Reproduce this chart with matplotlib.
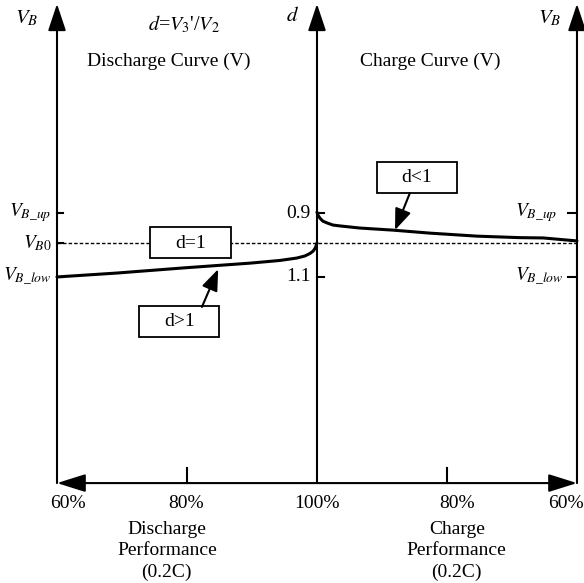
import matplotlib
matplotlib.use("Agg")
import matplotlib.pyplot as plt
from matplotlib.patches import Rectangle

plt.rcParams['font.family'] = ['Liberation Serif', 'DejaVu Serif']
plt.rcParams['mathtext.fontset'] = 'stix'

# capacity (%) vs battery voltage, voltage measured from V_B0
dis_cap = [60.0, 69.2, 79.4, 89.7, 94.3, 96.9, 98.15, 98.9, 99.4, 99.7, 99.85, 100.0]
dis_v = [-1.13, -1.0, -0.83, -0.67, -0.58, -0.5, -0.43, -0.35, -0.27, -0.18, -0.1, 0.0]
chg_cap = [100.0, 99.85, 99.55, 99.1, 98.45, 97.55, 96.45, 93.4, 88.3, 82.6, 75.4,
           68.8, 65.2, 62.6, 60.0]
chg_v = [1.03, 0.93, 0.83, 0.73, 0.67, 0.60, 0.57, 0.50, 0.43, 0.33, 0.23,
         0.18, 0.17, 0.12, 0.07]

v_levels = [1.0, 0.0, -1.13]
v_names = [r'$V_{B\_up}$', r'$V_{B0}$', r'$V_{B\_low}$']
d_levels = [1.0, -1.13]
d_labels = ['0.9', '1.1']
cap_ticks = [60, 80, 100, 80, 60]
cap_labels = ['60%', '80%', '100%', '80%', '60%']

# discharge side runs 60 -> 100, charge side mirrored 100 -> 60
def chg_x(c):
    return 200 - c

cap_pos = [cap_ticks[0], cap_ticks[1], cap_ticks[2], chg_x(cap_ticks[3]), chg_x(cap_ticks[4])]
x_left, x_mid, x_right = 60, 100, 140
y_bot, y_top = -8.0, 7.97

fig = plt.figure(figsize=(5.84, 5.83), dpi=100)
ax = fig.add_axes([0, 0, 1, 1])
ax.set_xlim(51.23, 141.08)
ax.set_ylim(-11.33, 8.1)
ax.axis('off')

lw = 1.5
head = dict(arrowstyle='-|>,head_length=1.65,head_width=0.55', mutation_scale=10,
            lw=lw, color='black', shrinkA=0, shrinkB=0)
for x in (x_left, x_mid, x_right):
    ax.annotate('', xy=(x, y_top), xytext=(x, y_bot), arrowprops=head)
ax.annotate('', xy=(x_left, y_bot), xytext=(x_right, y_bot),
            arrowprops=dict(arrowstyle='<|-|>,head_length=1.75,head_width=0.55',
                            mutation_scale=10, lw=lw, color='black', shrinkA=0, shrinkB=0))

# reference voltage
ax.plot([x_left, x_right], [0, 0], color='black', lw=1.0, ls=(0, (2.5, 1.5)))

# curves
ax.plot(dis_cap, dis_v, color='black', lw=2.2, solid_capstyle='round', solid_joinstyle='round')
ax.plot([chg_x(c) for c in chg_cap], chg_v, color='black', lw=2.2,
        solid_capstyle='round', solid_joinstyle='round')

fs = 14
# voltage ticks
for v, name in zip(v_levels, v_names):
    ax.plot([x_left, x_left + 0.9], [v, v], color='black', lw=lw)
    ax.text(x_left - 0.8, v, name, ha='right', va='center', fontsize=fs)
for v, name in zip([v_levels[0], v_levels[2]], [v_names[0], v_names[2]]):
    ax.plot([x_right - 1.4, x_right], [v, v], color='black', lw=lw)
    ax.text(x_right - 9.5, v, name, ha='left', va='center', fontsize=fs)
for v, lab in zip(d_levels, d_labels):
    ax.plot([x_mid, x_mid + 1.1], [v, v], color='black', lw=lw)
    ax.text(x_mid - 1.0, v, lab, ha='right', va='center', fontsize=fs)

# capacity ticks
for p in (cap_pos[1], cap_pos[3]):
    ax.plot([p, p], [y_bot, y_bot + 0.5], color='black', lw=lw)
lab_dx = [1.7, -0.2, 0.0, 1.6, -1.7]
for p, lab, dx in zip(cap_pos, cap_labels, lab_dx):
    ax.text(p + dx, y_bot - 0.68, lab, ha='center', va='center', fontsize=fs)

ax.text(76.9, -9.25, 'Discharge\nPerformance\n(0.2C)', ha='center', va='top',
        fontsize=fs, linespacing=1.35)
ax.text(121.5, -9.25, 'Charge\nPerformance\n(0.2C)', ha='center', va='top',
        fontsize=fs, linespacing=1.35)

# axis names and titles
ax.text(55.3, 7.5, r'$V_B$', ha='center', va='center', fontsize=fs + 1)
ax.text(96.3, 7.55, r'$d$', ha='center', va='center', fontsize=fs + 1)
ax.text(135.8, 7.5, r'$V_B$', ha='center', va='center', fontsize=fs + 1)
ax.text(79.6, 7.3, r"$d$=$V_3$'/$V_2$", ha='center', va='center', fontsize=fs + 0.5)
ax.text(77.2, 6.05, 'Discharge Curve (V)', ha='center', va='center', fontsize=fs)
ax.text(117.4, 6.05, 'Charge Curve (V)', ha='center', va='center', fontsize=fs)

# labelled boxes
boxes = [((74.3, -0.5), 'd=1'), ((72.6, -3.13), 'd>1'), ((109.2, 1.67), 'd<1')]
for (bx, by), lab in boxes:
    ax.add_patch(Rectangle((bx, by), 12.4, 1.03, facecolor='white',
                           edgecolor='black', lw=1.3, zorder=3))
    ax.text(bx + 6.2, by + 0.5, lab, ha='center', va='center', fontsize=fs, zorder=4)

small = dict(arrowstyle='-|>,head_length=1.3,head_width=0.5', mutation_scale=10,
             lw=lw, color='black', shrinkA=0, shrinkB=0)
ax.annotate('', xy=(84.8, -0.87), xytext=(82.3, -2.13), arrowprops=small)
ax.annotate('', xy=(112.0, 0.43), xytext=(114.3, 1.67), arrowprops=small)

fig.savefig('out.png', dpi=100)
